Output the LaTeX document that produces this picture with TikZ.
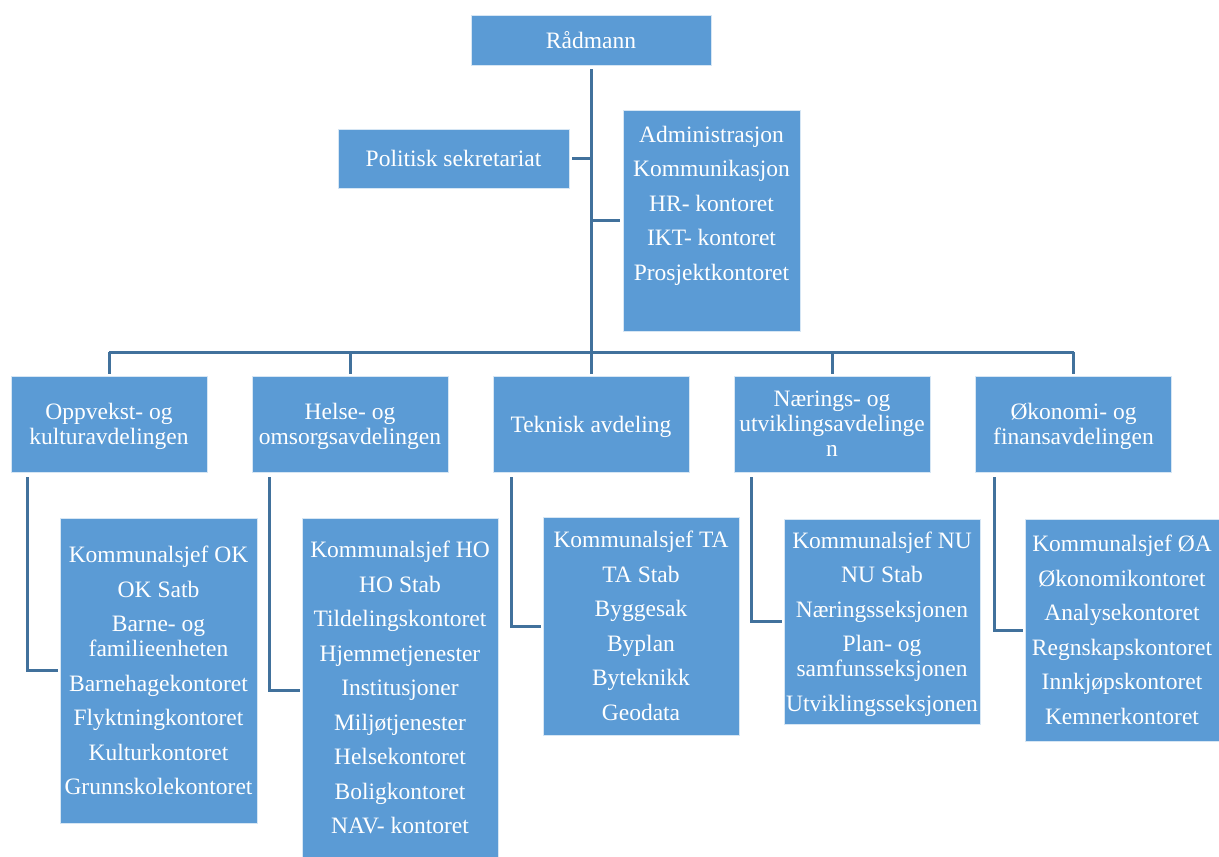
\documentclass[tikz,border=0pt]{standalone}
\usepackage{fontspec}
\setmainfont{Liberation Serif}
\definecolor{boxblue}{HTML}{5B9BD5}
\definecolor{linecol}{HTML}{41719C}
\begin{document}
\begin{tikzpicture}[x=1pt,y=-1pt,
  box/.style={rectangle, fill=boxblue, draw=white!75!boxblue, line width=0.8pt,
    inner sep=0pt, text=white, align=center,
    font=\fontsize{23.5pt}{25pt}\selectfont},
  dept/.style={box, minimum width=196pt, minimum height=96pt, text depth=-3pt},
  conn/.style={draw=linecol, line width=3pt}]
\useasboundingbox (0,0) rectangle (1219,857);
% top level
\node[box, minimum width=240pt, minimum height=50pt] (rad) at (591,40) {Rådmann};
\node[box, minimum width=231pt, minimum height=59pt] (pol) at (453.5,158.5) {Politisk sekretariat};
\node[box, minimum width=177pt, minimum height=221pt] (adm) at (711.5,220.5)
  {Administrasjon\\[9.5pt]Kommunikasjon\\[9.5pt]HR- kontoret\\[9.5pt]IKT- kontoret\\[9.5pt]Prosjektkontoret\\[9.5pt]\mbox{}};
% departments
\node[dept] (okd) at (109,424) {Oppvekst- og\\kulturavdelingen};
\node[dept] (hod) at (350,424) {Helse- og\\omsorgsavdelingen};
\node[dept] (tad) at (591,424) {Teknisk avdeling};
\node[dept, text depth=-4pt] (nud) at (832,424) {Nærings- og\\utviklingsavdelinge\\n};
\node[dept] (oad) at (1073.5,424) {Økonomi- og\\finansavdelingen};
% sub boxes
\node[box, minimum width=197pt, minimum height=305pt] (okl) at (158.5,670.5)
  {Kommunalsjef OK\\[9.5pt]OK Satb\\[9.5pt]Barne- og\\familieenheten\\[9.5pt]Barnehagekontoret\\[9.5pt]Flyktningkontoret\\[9.5pt]Kulturkontoret\\[9.5pt]Grunnskolekontoret};
\node[box, minimum width=196pt, minimum height=339pt, text depth=-6pt] (hol) at (400,687.5)
  {Kommunalsjef HO\\[9.5pt]HO Stab\\[9.5pt]Tildelingskontoret\\[9.5pt]Hjemmetjenester\\[9.5pt]Institusjoner\\[9.5pt]Miljøtjenester\\[9.5pt]Helsekontoret\\[9.5pt]Boligkontoret\\[9.5pt]NAV- kontoret};
\node[box, minimum width=196pt, minimum height=218pt] (tal) at (641,626)
  {Kommunalsjef TA\\[9.5pt]TA Stab\\[9.5pt]Byggesak\\[9.5pt]Byplan\\[9.5pt]Byteknikk\\[9.5pt]Geodata};
\node[box, minimum width=196pt, minimum height=205pt, text depth=-1pt] (nul) at (882,621.5)
  {Kommunalsjef NU\\[9.5pt]NU Stab\\[9.5pt]Næringsseksjonen\\[9.5pt]Plan- og\\samfunsseksjonen\\[9.5pt]Utviklingsseksjonen};
\node[box, minimum width=194pt, minimum height=222pt] (oal) at (1122,630)
  {Kommunalsjef ØA\\[9.5pt]Økonomikontoret\\[9.5pt]Analysekontoret\\[9.5pt]Regnskapskontoret\\[9.5pt]Innkjøpskontoret\\[9.5pt]Kemnerkontoret};
% connectors
\coordinate (bus) at (591,352);
\draw[conn] ([yshift=-4pt]rad.south) -- (bus);
\draw[conn] ([xshift=3pt]pol.east) -- (pol.east -| bus);
\draw[conn] ([xshift=-3pt]adm.west) -- (adm.west -| bus);
\draw[conn] (okd.north |- bus) -- (oad.north |- bus);
\foreach \d in {okd,hod,tad,nud,oad}{
  \draw[conn] ([yshift=2pt]\d.north) -- (\d.north |- bus);
}
\draw[conn] ([xshift=17pt,yshift=-5pt]okd.south west) |- ([xshift=-2pt]okl.west);
\draw[conn] ([xshift=18pt,yshift=-5pt]hod.south west) |- ([xshift=-2pt,yshift=-3pt]hol.west);
\draw[conn] ([xshift=19pt,yshift=-5pt]tad.south west) |- ([xshift=-2pt]tal.west);
\draw[conn] ([xshift=18pt,yshift=-5pt]nud.south west) |- ([xshift=-2pt]nul.west);
\draw[conn] ([xshift=19pt,yshift=-5pt]oad.south west) |- ([xshift=-2pt]oal.west);
\end{tikzpicture}
\end{document}
